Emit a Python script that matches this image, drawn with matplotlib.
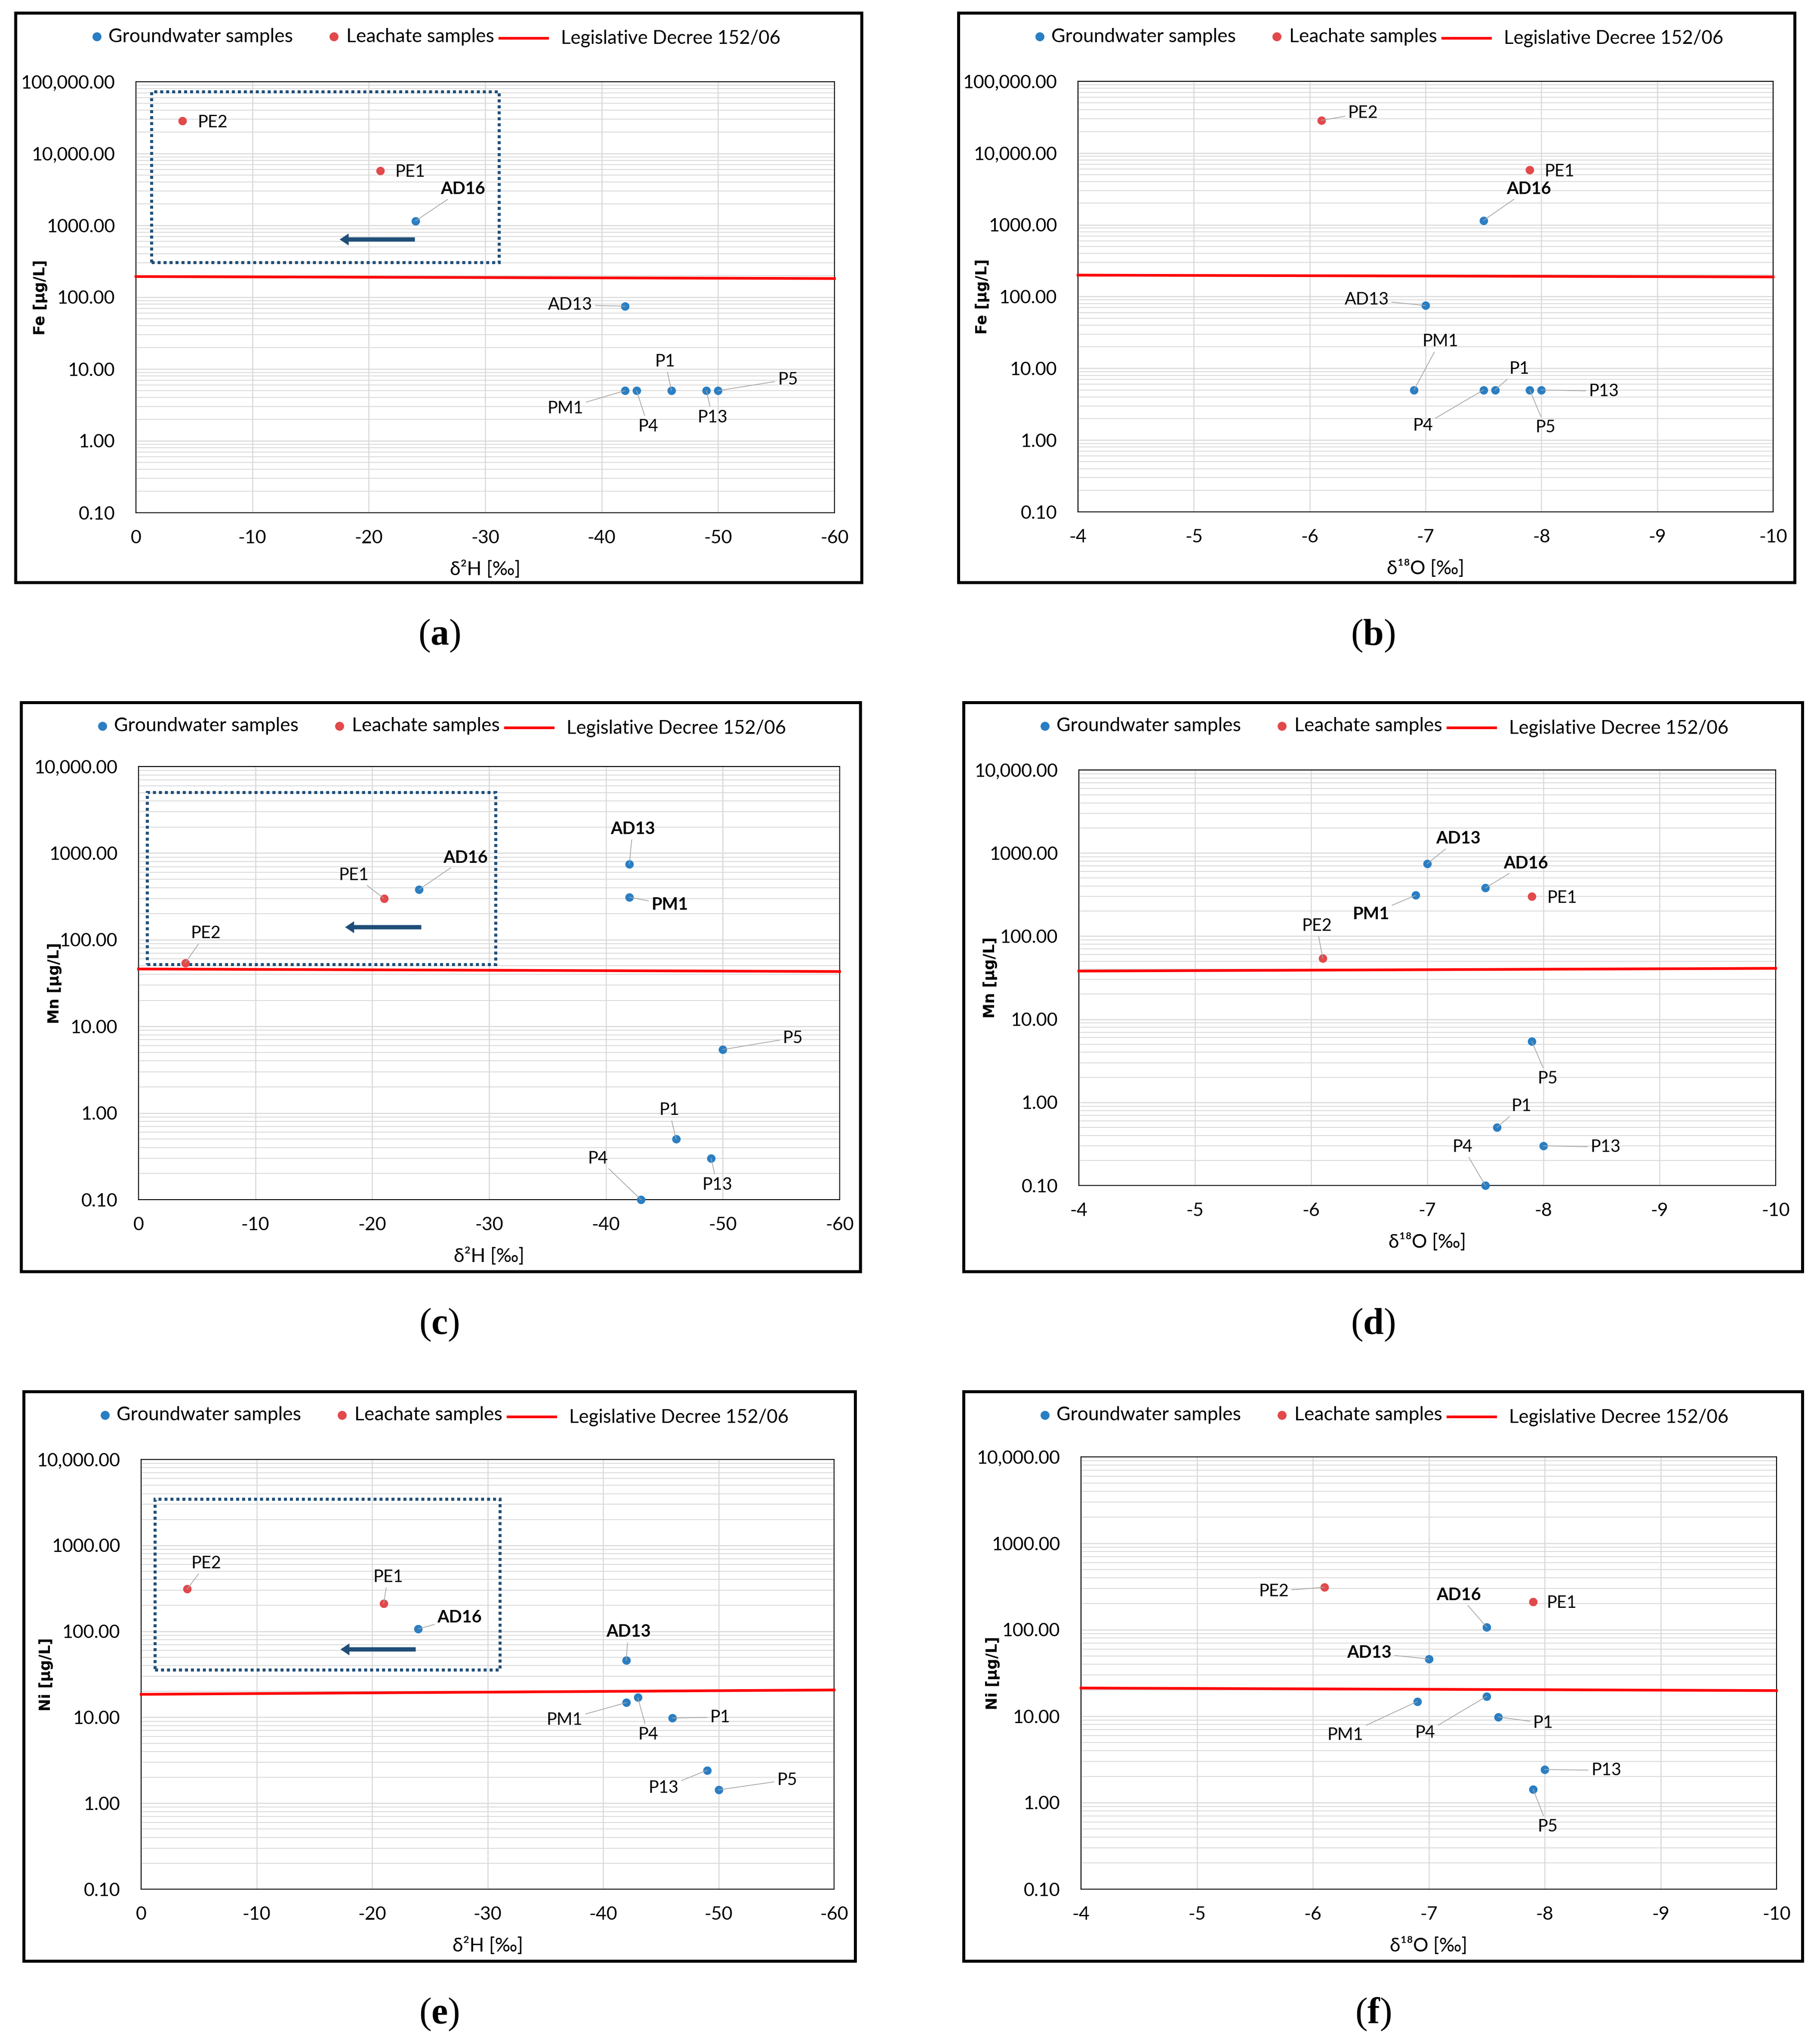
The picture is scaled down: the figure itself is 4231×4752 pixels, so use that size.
import numpy as np
import matplotlib
matplotlib.use("Agg")
import matplotlib.pyplot as plt
from matplotlib.patches import Rectangle, FancyArrowPatch
from matplotlib.lines import Line2D
from matplotlib.ticker import FixedLocator, LogLocator, FuncFormatter, NullFormatter

# ── data ──────────────────────────────────────────────────────────────────────
SAMPLES = ["AD13", "AD16", "P1", "P4", "P5", "P13", "PM1", "PE1", "PE2"]
LEACHATE = {"PE1", "PE2"}

D2H  = [-42, -24, -46, -43, -50, -49, -42, -21, -4]
D18O = [-7.0, -7.5, -7.6, -7.5, -7.9, -8.0, -6.9, -7.9, -6.1]

FE = [75, 1150, 5, 5, 5, 5, 5, 5800, 28500]
MN = [745, 380, 0.5, 0.1, 5.4, 0.3, 310, 300, 54]
NI = [46, 107, 9.8, 17, 1.43, 2.42, 14.8, 210, 310]

# Legislative Decree 152/06 line as drawn in each panel (left end, right end)
LIMIT_FE_2H = [194, 182]
LIMIT_FE_18O = [199, 188]
LIMIT_MN_2H = [46, 43]
LIMIT_MN_18O = [38, 41]
LIMIT_NI_2H = [18.5, 20.8]
LIMIT_NI_18O = [21.2, 19.8]

D2H_TICKS = [0, -10, -20, -30, -40, -50, -60]
D18O_TICKS = [-4, -5, -6, -7, -8, -9, -10]

# ── style ────────────────────────────────────────────────────────────────────
W, H, DPI = 4231, 4752, 100
BLUE = "#2a7ec3"
RED_PT = "#e2494b"
LIMIT_RED = "#ff0000"
GRID_C = "#d9d9d9"
NAVY = "#1f4e79"
LEADER = "#a6a6a6"

plt.rcParams["font.family"] = ["Lato", "DejaVu Sans"]
plt.rcParams["axes.unicode_minus"] = False
plt.rcParams["mathtext.fontset"] = "custom"
plt.rcParams["mathtext.rm"] = "Liberation Serif"
plt.rcParams["mathtext.bf"] = "Liberation Serif:bold"

# label offsets in pixels (dx, dy down-positive, leader line?)
LAB_A = {"PE2": (70, 3, False), "PE1": (69, 3, False), "AD16": (110, -74, True),
         "AD13": (-127, -3, True), "PM1": (-139, 41, True), "P4": (27, 83, True),
         "P1": (-15, -68, True), "P13": (14, 62, True), "P5": (162, -26, True)}
LAB_B = {"PE2": (97, -17, True), "PE1": (69, 3, False), "AD16": (105, -73, True),
         "AD13": (-137, -14, True), "PM1": (61, -113, True), "P4": (-141, 83, True),
         "P1": (56, -49, True), "P5": (36, 87, True), "P13": (145, 3, True)}
LAB_C = {"PE2": (48, -69, True), "PE1": (-70, -54, True), "AD16": (108, -74, True),
         "AD13": (8, -82, True), "PM1": (94, 18, True), "P5": (162, -27, True),
         "P1": (-16, -68, True), "P13": (14, 62, True), "P4": (-100, -96, True)}
LAB_D = {"AD13": (72, -58, True), "AD16": (94, -57, True), "PE1": (70, 3, False),
         "PM1": (-104, 44, True), "PE2": (-14, -76, True), "P5": (37, 86, True),
         "P1": (57, -49, True), "P13": (144, 3, True), "P4": (-53, -90, True)}
LAB_E = {"PE2": (44, -60, True), "PE1": (10, -62, True), "AD16": (96, -26, True),
         "AD13": (5, -66, True), "PM1": (-143, 40, True), "P4": (24, 86, True),
         "P1": (111, -2, True), "P13": (-101, 41, True), "P5": (159, -23, True)}
LAB_F = {"PE2": (-118, 9, True), "AD16": (-65, -75, True), "PE1": (66, 2, False),
         "AD13": (-138, -14, True), "PM1": (-167, 78, True), "P4": (-143, 85, True),
         "P1": (104, 14, True), "P13": (143, 2, True), "P5": (34, 87, True)}

PANELS = [
    dict(tag="a", x=D2H, y=FE, lim=LIMIT_FE_2H, xt=D2H_TICKS, ytop=1e5,
         xlabel="δ²H [‰]", ylabel="Fe [µg/L]", labels=LAB_A, bold={"AD16"},
         frame=(36, 30, 2003, 1354), plot=(316, 190, 1940, 1192), ylx=58,
         box=(0.022, 0.581, 0.520, 0.977), arrow=(0.401, 0.290, 0.634), cap=(1021, 1478)),
    dict(tag="b", x=D18O, y=FE, lim=LIMIT_FE_18O, xt=D18O_TICKS, ytop=1e5,
         xlabel="δ¹⁸O [‰]", ylabel="Fe [µg/L]", labels=LAB_B, bold={"AD16"},
         frame=(2228, 30, 4172, 1354), plot=(2506, 189, 4122, 1190), ylx=56,
         box=None, arrow=None, cap=(3192, 1478)),
    dict(tag="c", x=D2H, y=MN, lim=LIMIT_MN_2H, xt=D2H_TICKS, ytop=1e4,
         xlabel="δ²H [‰]", ylabel="Mn [µg/L]", labels=LAB_C, bold={"AD16", "AD13", "PM1"},
         frame=(49, 1633, 2000, 2956), plot=(322, 1782, 1952, 2789), ylx=78,
         box=(0.012, 0.543, 0.509, 0.940), arrow=(0.405, 0.293, 0.629), cap=(1021, 3080)),
    dict(tag="d", x=D18O, y=MN, lim=LIMIT_MN_18O, xt=D18O_TICKS, ytop=1e4,
         xlabel="δ¹⁸O [‰]", ylabel="Mn [µg/L]", labels=LAB_D, bold={"AD16", "AD13", "PM1"},
         frame=(2240, 1633, 4190, 2956), plot=(2508, 1790, 4128, 2756), ylx=62,
         box=None, arrow=None, cap=(3192, 3080)),
    dict(tag="e", x=D2H, y=NI, lim=LIMIT_NI_2H, xt=D2H_TICKS, ytop=1e4,
         xlabel="δ²H [‰]", ylabel="Ni [µg/L]", labels=LAB_E, bold={"AD16", "AD13"},
         frame=(55, 3235, 1988, 4559), plot=(328, 3393, 1939, 4392), ylx=52,
         box=(0.020, 0.511, 0.518, 0.908), arrow=(0.398, 0.286, 0.558), cap=(1021, 4683)),
    dict(tag="f", x=D18O, y=NI, lim=LIMIT_NI_18O, xt=D18O_TICKS, ytop=1e4,
         xlabel="δ¹⁸O [‰]", ylabel="Ni [µg/L]", labels=LAB_F, bold={"AD16", "AD13"},
         frame=(2240, 3235, 4190, 4559), plot=(2513, 3387, 4130, 4392), ylx=68,
         box=None, arrow=None, cap=(3192, 4683)),
]


def fx(px):
    return px / W


def fy(py):
    return 1 - py / H


def ytick_fmt(v, pos):
    return f"{v:,.2f}" if v >= 10000 else f"{v:.2f}"


fig = plt.figure(figsize=(W / DPI, H / DPI), dpi=DPI)
fig.patch.set_facecolor("white")

for p in PANELS:
    L, T, R, B = p["frame"]
    pl, pt, pr, pb = p["plot"]
    ax = fig.add_axes([fx(pl), fy(pb), (pr - pl) / W, (pb - pt) / H])

    # axes / grid
    ax.set_yscale("log")
    ax.set_ylim(0.1, p["ytop"])
    ax.set_xlim(p["xt"][0], p["xt"][-1])
    decades = [10.0 ** k for k in range(-1, int(round(np.log10(p["ytop"]))) + 1)]
    ax.yaxis.set_major_locator(FixedLocator(decades))
    ax.yaxis.set_major_formatter(FuncFormatter(ytick_fmt))
    ax.yaxis.set_minor_locator(LogLocator(base=10, subs=np.arange(2, 10), numticks=50))
    ax.yaxis.set_minor_formatter(NullFormatter())
    ax.set_xticks(p["xt"])
    ax.set_xticklabels([str(v) for v in p["xt"]])
    ax.grid(which="major", axis="both", color=GRID_C, lw=1.8, zorder=0)
    ax.grid(which="minor", axis="y", color=GRID_C, lw=1.4, zorder=0)
    ax.set_axisbelow(True)
    ax.tick_params(which="both", length=0)
    ax.tick_params(axis="y", pad=35, labelsize=31)
    ax.tick_params(axis="x", pad=29, labelsize=31)
    for s in ax.spines.values():
        s.set_color("black")
        s.set_linewidth(1.6)

    # limit line
    xl = ax.get_xlim()
    ax.plot([xl[0], xl[1]], p["lim"], color=LIMIT_RED, lw=4.5, zorder=3, clip_on=False)

    # samples
    gx = [x for x, s in zip(p["x"], SAMPLES) if s not in LEACHATE]
    gy = [y for y, s in zip(p["y"], SAMPLES) if s not in LEACHATE]
    lx = [x for x, s in zip(p["x"], SAMPLES) if s in LEACHATE]
    ly = [y for y, s in zip(p["y"], SAMPLES) if s in LEACHATE]
    ax.scatter(gx, gy, s=200, color=BLUE, zorder=5, clip_on=False, linewidths=0)
    ax.scatter(lx, ly, s=200, color=RED_PT, zorder=5, clip_on=False, linewidths=0)

    # data labels
    for s, x, y in zip(SAMPLES, p["x"], p["y"]):
        dx, dy, lead = p["labels"][s]
        props = dict(arrowstyle="-", color=LEADER, lw=1.3, shrinkA=3, shrinkB=0) if lead else None
        ax.annotate(s, xy=(x, y), xytext=(dx, -dy), textcoords="offset pixels",
                    ha="center", va="center", fontsize=28.5,
                    fontweight="bold" if s in p["bold"] else "normal",
                    arrowprops=props, zorder=6)

    # dotted box + arrow
    if p["box"]:
        x0, y0, x1, y1 = p["box"]
        ax.add_patch(Rectangle((x0, y0), x1 - x0, y1 - y0, transform=ax.transAxes,
                               fill=False, ec=NAVY, lw=5, ls=(0, (1, 1)), zorder=4,
                               clip_on=False))
        a0, a1, ay = p["arrow"]
        ax.add_patch(FancyArrowPatch((a0, ay), (a1, ay), transform=ax.transAxes,
                                     arrowstyle="simple,head_width=2.0,head_length=1.5,tail_width=0.72",
                                     mutation_scale=10, color=NAVY, lw=0, zorder=4))

    # axis titles
    ax.text(0.5, -132 / (pb - pt), p["xlabel"], transform=ax.transAxes,
            ha="center", va="center", fontsize=32)
    fig.text(fx(L + p["ylx"]), fy((pt + pb) / 2), p["ylabel"], rotation=90,
             ha="center", va="center", fontsize=25, fontweight="bold",
             family="DejaVu Sans")

    # legend (drawn like the spreadsheet legend row)
    ly_ = T + 55
    fig.add_artist(Line2D([fx(L + 189)], [fy(ly_)], marker="o", ms=14, color=BLUE,
                          ls="none", transform=fig.transFigure))
    fig.text(fx(L + 216), fy(ly_), "Groundwater samples", ha="left", va="center", fontsize=32)
    fig.add_artist(Line2D([fx(L + 740)], [fy(ly_)], marker="o", ms=14, color=RED_PT,
                          ls="none", transform=fig.transFigure))
    fig.text(fx(L + 769), fy(ly_), "Leachate samples", ha="left", va="center", fontsize=32)
    fig.add_artist(Line2D([fx(L + 1126), fx(L + 1237)], [fy(ly_ + 4), fy(ly_ + 4)],
                          color=LIMIT_RED, lw=4.5, transform=fig.transFigure))
    fig.text(fx(L + 1268), fy(ly_ + 5), "Legislative Decree 152/06", ha="left",
             va="center", fontsize=31.5)

    # black frame around each chart
    fig.add_artist(Rectangle((fx(L), fy(B)), (R - L) / W, (B - T) / H,
                             transform=fig.transFigure, fill=False, ec="black", lw=5))

    # caption
    cx, cy = p["cap"]
    fig.text(fx(cx), fy(cy), r"$(\mathbf{%s})$" % p["tag"], ha="center", va="center",
             fontsize=62)

fig.savefig("out.png", dpi=DPI, facecolor="white")
